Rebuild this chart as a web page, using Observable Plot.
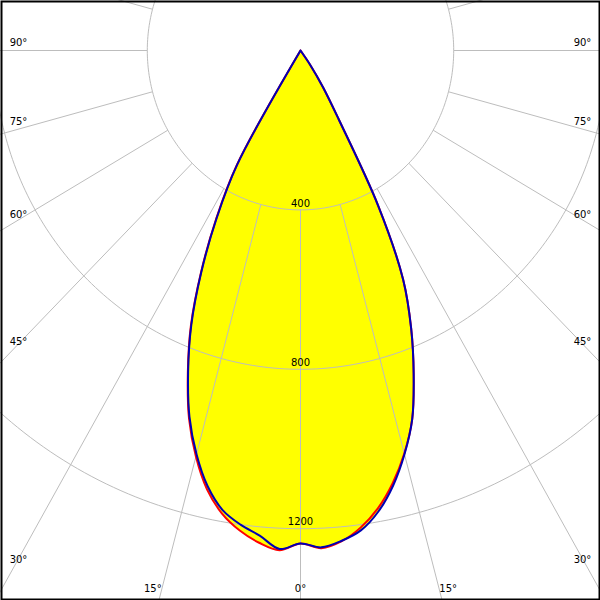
<!DOCTYPE html>
<html><head><meta charset="utf-8">
<script src="https://cdn.jsdelivr.net/npm/d3@7"></script>
<script src="https://cdn.jsdelivr.net/npm/@observablehq/plot@0.6"></script>
<style>html,body{margin:0;padding:0;background:#fff}#chart svg{display:block}</style>
</head><body><div id="chart"></div>
<script>
// Vertical angles (gamma, degrees)
const gamma = [0,2.5,5,7.5,10,12.5,15,17.5,20,22.5,25,27.5,30,32.5,35,37.5,40,42.5,45,47.5,50,52.5,55,57.5,60,62.5,65,67.5,70,72.5,75,77.5,80,82.5,85,87.5,90];
// Luminous intensity (cd) – C0 / C180 plane (red)
const c0   = [1237,1250,1236,1207,1166,1112,1047,970,864,755,634,440,200,110,45,0,0,0,0,0,0,0,0,0,0,0,0,0,0,0,0,0,0,0,0,0,0];
const c180 = [1237,1255,1240,1215,1180,1128,1055,968,860,748,615,478,335,0,0,0,0,0,0,0,0,0,0,0,0,0,0,0,0,0,0,0,0,0,0,0,0];
// Luminous intensity (cd) – C90 / C270 plane (blue)
const c90  = [1237,1248,1235,1214,1174,1118,1049,970,864,755,634,440,200,110,45,0,0,0,0,0,0,0,0,0,0,0,0,0,0,0,0,0,0,0,0,0,0];
const c270 = [1237,1252,1222,1200,1171,1120,1049,964,858,745,612,474,330,0,0,0,0,0,0,0,0,0,0,0,0,0,0,0,0,0,0,0,0,0,0,0,0];
// Grid
const ringValues = [400,800,1200,1600];
const ringLabels = [400,800,1200];
const spokeAngles = [0,15,30,45,60,75,90,105,120,135,150,165,180];
const sideAngleLabels = [90,75,60,45,30];
const bottomAngleLabels = [15,0];

// layout
const W = 600, H = 600, CX = 300, CY = 50, SX = 0.383, SY = 0.3985;
const rad = d => d * Math.PI / 180;

function polygon(left, right, name) {
  const pts = [];
  let lastZero = false;
  const add = (I, g, s) => {
    if (I === 0) { if (lastZero) return; lastZero = true; } else lastZero = false;
    pts.push({s: name, x: s * I * Math.sin(rad(g)), y: I * Math.cos(rad(g))});
  };
  for (let i = gamma.length - 1; i >= 0; i--) add(left[i], gamma[i], -1);
  for (let i = 1; i < gamma.length; i++) add(right[i], gamma[i], 1);
  return pts;
}
const red = polygon(c180, c0, "C0-C180");
const blue = polygon(c270, c90, "C90-C270");

const rings = [];
for (const r of ringValues) for (let a = 0; a <= 360; a += 1) rings.push({r, x: r * Math.sin(rad(a)), y: r * Math.cos(rad(a))});

const spokes = [];
for (const a of spokeAngles) for (const s of [-1, 1]) {
  spokes.push({x1: s * 400 * Math.sin(rad(a)), y1: 400 * Math.cos(rad(a)), x2: s * 2500 * Math.sin(rad(a)), y2: 2500 * Math.cos(rad(a))});
}

const angleText = [];
for (const g of sideAngleLabels) for (const s of [-1, 1]) {
  const X = s * (CX - 18) / SX;
  const Y = g === 90 ? 0 : Math.abs(X) * Math.cos(rad(g)) / Math.sin(rad(g));
  const off = (-8 + 12 * Math.cos(rad(g)) ** 2) / SY;
  angleText.push({x: X, y: Y + off, t: g + "°"});
}
for (const g of bottomAngleLabels) for (const s of (g === 0 ? [0] : [-1, 1])) {
  const Y = (588.5 - CY) / SY;
  angleText.push({x: s * (Y * Math.tan(rad(g)) + 9 / SX), y: Y, t: g + "°"});
}
const ringText = ringLabels.map(r => ({x: 0, y: r - 6.5 / SY, t: String(r)}));

const font = {fontFamily: "DejaVu Sans, Verdana, sans-serif", fontSize: 10, fill: "black"};
const smooth = "catmull-rom";

const chart = Plot.plot({
  width: W, height: H, margin: 0,
  style: {background: "white"},
  x: {domain: [-CX / SX, (W - CX) / SX], range: [0, W], axis: null},
  y: {domain: [-CY / SY, (H - CY) / SY], range: [0, H], axis: null},
  marks: [
    Plot.line(red, {x: "x", y: "y", curve: smooth, fill: "#ffff00", stroke: "none"}),
    Plot.line(blue, {x: "x", y: "y", curve: smooth, fill: "#ffff00", stroke: "none"}),
    Plot.line(rings, {x: "x", y: "y", z: "r", stroke: "#bdbdbd", strokeWidth: 1, clip: true}),
    Plot.link(spokes, {x1: "x1", y1: "y1", x2: "x2", y2: "y2", stroke: "#bdbdbd", strokeWidth: 1, clip: true}),
    Plot.line(red, {x: "x", y: "y", curve: smooth, stroke: "#ff0000", strokeWidth: 2, strokeLinejoin: "round"}),
    Plot.line(blue, {x: "x", y: "y", curve: smooth, stroke: "#0000b4", strokeWidth: 2, strokeLinejoin: "round"}),
    Plot.text(ringText, {x: "x", y: "y", text: "t", textAnchor: "middle", ...font}),
    Plot.text(angleText, {x: "x", y: "y", text: "t", textAnchor: "middle", ...font}),
    Plot.frame({stroke: "black", strokeWidth: 2, inset: 1})
  ]
});
document.getElementById("chart").appendChild(chart);
</script>
</body></html>
